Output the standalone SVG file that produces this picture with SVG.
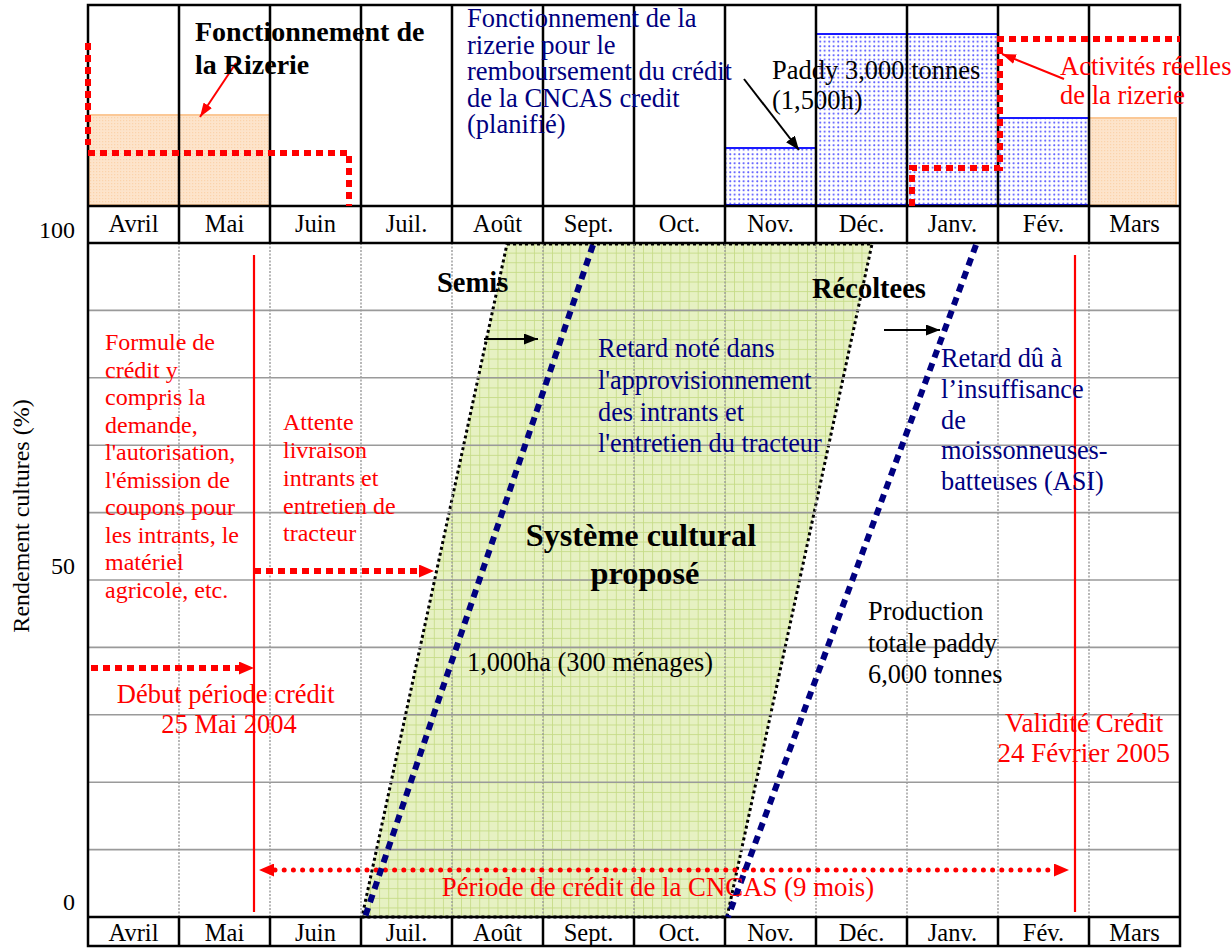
<svg xmlns="http://www.w3.org/2000/svg" width="1232" height="948" viewBox="0 0 1232 948">
  <style>
    text { font-family: "Liberation Serif", "Times New Roman", serif; }
    .month { font-size: 24.5px; fill: #000; text-anchor: middle; }
    .axis { font-size: 24px; fill: #000; }
    .red { fill: #f00; }
    .navy { fill: #000080; }
    .blk { fill: #000; }
    .bold { font-weight: bold; }
    .frame { stroke: #000; stroke-width: 2.5; fill: none; }
    .gridh { stroke: #9a9a9a; stroke-width: 1.6; }
    .gridv { stroke: #9a9a9a; stroke-width: 1.4; stroke-dasharray: 2 1.5; }
    .redsq { stroke: #f00; stroke-width: 6; fill: none; stroke-dasharray: 7 5; }
    .reddot { stroke: #f00; stroke-width: 5; fill: none; stroke-linecap: round; stroke-dasharray: 0 9.2; }
    .navydash { stroke: #000080; stroke-width: 6; fill: none; stroke-dasharray: 8 6; }
    .blackdot { stroke: #000; stroke-width: 3; fill: none; stroke-dasharray: 3 3; }
    .orange { fill: url(#orangeFill); stroke: #fbc896; stroke-width: 2; }
    .bluebox { fill: url(#blueDots); stroke: #1a1aff; stroke-width: 2; }
  </style>
  <defs>
    <pattern id="greenGrid" x="88" y="243" width="9.1" height="9.63" patternUnits="userSpaceOnUse">
      <rect width="9.1" height="9.63" fill="#e6f1c2"/>
      <path d="M0 0.4H9.1M0.4 0V9.63" stroke="#c4db84" stroke-width="0.9" fill="none"/>
    </pattern>
    <pattern id="blueDots" width="4.5" height="4.5" patternUnits="userSpaceOnUse">
      <rect width="4.5" height="4.5" fill="#fff"/>
      <circle cx="1.2" cy="1.2" r="0.95" fill="#3b3bff"/>
    </pattern>
    <pattern id="orangeFill" width="3" height="3" patternUnits="userSpaceOnUse">
      <rect width="3" height="3" fill="#fde4cb"/>
      <rect width="1.2" height="1.2" fill="#fbd3ab"/>
    </pattern>
    <marker id="redTip" viewBox="0 0 15 13" refX="15" refY="6.5" markerWidth="15" markerHeight="13" markerUnits="userSpaceOnUse" orient="auto-start-reverse">
      <path d="M0 0L15 6.5L0 13z" fill="#f00"/>
    </marker>
    <marker id="redTipSmall" viewBox="0 0 14 10" refX="14" refY="5" markerWidth="14" markerHeight="10" markerUnits="userSpaceOnUse" orient="auto">
      <path d="M0 0L14 5L0 10z" fill="#f00"/>
    </marker>
    <marker id="blackTip" viewBox="0 0 14 11" refX="14" refY="5.5" markerWidth="14" markerHeight="11" markerUnits="userSpaceOnUse" orient="auto">
      <path d="M0 0L14 5.5L0 11z" fill="#000"/>
    </marker>
  </defs>

  <rect width="1232" height="948" fill="#fff"/>

  <!-- proposed cropping system band -->
  <g id="cropping-system">
    <polygon points="507,244 872,244 727,917 362,917" fill="url(#greenGrid)"/>
    <polygon points="507,244 872,244 727,917 362,917" class="blackdot"/>
  </g>

  <!-- chart grid -->
  <g id="grid">
    <path class="gridh" d="M88 310.4H1180M88 377.8H1180M88 445.2H1180M88 512.6H1180M88 580H1180M88 647.4H1180M88 714.8H1180M88 782.2H1180M88 849.6H1180"/>
    <path class="gridv" d="M179 243V917M270 243V917M361 243V917M452 243V917M543 243V917M634 243V917M725 243V917M816 243V917M907 243V917M998 243V917M1089 243V917"/>
  </g>

  <!-- rice mill activity bars -->
  <g id="mill-bars">
    <rect class="orange" x="89" y="115" width="90" height="90"/>
    <rect class="orange" x="179" y="115" width="91" height="90"/>
    <rect class="orange" x="1089" y="118" width="87" height="87"/>
    <rect class="bluebox" x="725" y="148" width="91" height="57"/>
    <rect class="bluebox" x="816" y="34" width="91" height="171"/>
    <rect class="bluebox" x="907" y="34" width="91" height="171"/>
    <rect class="bluebox" x="998" y="118" width="91" height="87"/>
  </g>

  <!-- table frame and month rows -->
  <g id="frame">
    <rect class="frame" x="88" y="5" width="1092" height="941"/>
    <path class="frame" d="M88 206H1180M88 243H1180M88 917H1180"/>
    <path class="frame" d="M179 5V243M270 5V243M361 5V243M452 5V243M543 5V243M634 5V243M725 5V243M816 5V243M907 5V243M998 5V243M1089 5V243"/>
    <path class="frame" d="M179 917V946M270 917V946M361 917V946M452 917V946M543 917V946M634 917V946M725 917V946M816 917V946M907 917V946M998 917V946M1089 917V946"/>
  </g>

  <g id="months-top">
    <text class="month" x="133.5" y="232">Avril</text>
    <text class="month" x="224.5" y="232">Mai</text>
    <text class="month" x="315.5" y="232">Juin</text>
    <text class="month" x="406.5" y="232">Juil.</text>
    <text class="month" x="497.5" y="232">Août</text>
    <text class="month" x="588.5" y="232">Sept.</text>
    <text class="month" x="679.5" y="232">Oct.</text>
    <text class="month" x="770.5" y="232">Nov.</text>
    <text class="month" x="861.5" y="232">Déc.</text>
    <text class="month" x="952.5" y="232">Janv.</text>
    <text class="month" x="1043.5" y="232">Fév.</text>
    <text class="month" x="1134.5" y="232">Mars</text>
  </g>
  <g id="months-bottom">
    <text class="month" x="133.5" y="941">Avril</text>
    <text class="month" x="224.5" y="941">Mai</text>
    <text class="month" x="315.5" y="941">Juin</text>
    <text class="month" x="406.5" y="941">Juil.</text>
    <text class="month" x="497.5" y="941">Août</text>
    <text class="month" x="588.5" y="941">Sept.</text>
    <text class="month" x="679.5" y="941">Oct.</text>
    <text class="month" x="770.5" y="941">Nov.</text>
    <text class="month" x="861.5" y="941">Déc.</text>
    <text class="month" x="952.5" y="941">Janv.</text>
    <text class="month" x="1043.5" y="941">Fév.</text>
    <text class="month" x="1134.5" y="941">Mars</text>
  </g>

  <!-- y axis -->
  <g id="y-axis">
    <text class="axis" x="75" y="238" text-anchor="end">100</text>
    <text class="axis" x="75" y="574" text-anchor="end">50</text>
    <text class="axis" x="75" y="910" text-anchor="end">0</text>
    <text class="axis" font-size="26.5" transform="translate(29,516) rotate(-90)" text-anchor="middle">Rendement cultures (%)</text>
  </g>

  <!-- connectors -->
  <g id="connectors">
    <!-- planned and actual mill operation -->
    <path class="redsq" d="M88 43V145"/>
    <path class="redsq" d="M88 153H349V206"/>
    <path class="redsq" d="M912 206V168H1000V39H1180"/>
    <line x1="236" y1="63" x2="200" y2="117" stroke="#f00" stroke-width="2" marker-end="url(#redTipSmall)"/>
    <line x1="1064" y1="79" x2="1002" y2="54" stroke="#f00" stroke-width="2" marker-end="url(#redTipSmall)"/>
    <line x1="744" y1="79" x2="799" y2="150" stroke="#000" stroke-width="2" marker-end="url(#blackTip)"/>
    <!-- credit period markers -->
    <line x1="254" y1="255" x2="254" y2="912" stroke="#f00" stroke-width="2.2"/>
    <line x1="1075" y1="255" x2="1075" y2="912" stroke="#f00" stroke-width="2.2"/>
    <path class="redsq" d="M254 571H420"/>
    <path d="M420 571H434" stroke="none" marker-end="url(#redTip)"/>
    <path class="redsq" d="M91 668H240"/>
    <path d="M240 668H254" stroke="none" marker-end="url(#redTip)"/>
    <path class="reddot" d="M275 870H1054"/>
    <path d="M273 870H259" stroke="none" marker-end="url(#redTip)"/>
    <path d="M1054 870H1069" stroke="none" marker-end="url(#redTip)"/>
    <!-- sowing and harvest delays -->
    <line class="navydash" x1="593" y1="245" x2="365" y2="917"/>
    <line class="navydash" x1="976" y1="245" x2="728" y2="917"/>
    <line x1="484" y1="339" x2="538" y2="339" stroke="#000" stroke-width="2" marker-end="url(#blackTip)"/>
    <line x1="884" y1="330" x2="940" y2="330" stroke="#000" stroke-width="2" marker-end="url(#blackTip)"/>
  </g>

  <!-- labels -->
  <g id="label-mill">
    <text class="blk bold" font-size="28" x="195" y="41">Fonctionnement de</text>
    <text class="blk bold" font-size="28" x="195" y="74">la Rizerie</text>
  </g>
  <g id="label-planned">
    <text class="navy" font-size="26.5">
      <tspan x="467" y="27">Fonctionnement de la</tspan>
      <tspan x="467" y="53.5">rizerie pour le</tspan>
      <tspan x="467" y="80">remboursement du crédit</tspan>
      <tspan x="467" y="106.5">de la CNCAS credit</tspan>
      <tspan x="467" y="133">(planifié)</tspan>
    </text>
  </g>
  <g id="label-paddy">
    <text class="blk" font-size="26.5">
      <tspan x="772" y="79">Paddy 3,000 tonnes</tspan>
      <tspan x="772" y="109">(1,500h)</tspan>
    </text>
  </g>
  <g id="label-actual">
    <text class="red" font-size="26.5">
      <tspan x="1060" y="75">Activités réelles</tspan>
      <tspan x="1060" y="104">de la rizerie</tspan>
    </text>
  </g>
  <g id="label-credit-formula">
    <text class="red" font-size="24">
      <tspan x="105" y="350">Formule de</tspan>
      <tspan x="105" y="377.5">crédit y</tspan>
      <tspan x="105" y="405">compris la</tspan>
      <tspan x="105" y="432.5">demande,</tspan>
      <tspan x="105" y="460">l'autorisation,</tspan>
      <tspan x="105" y="487.5">l'émission de</tspan>
      <tspan x="105" y="515">coupons pour</tspan>
      <tspan x="105" y="542.5">les intrants, le</tspan>
      <tspan x="105" y="570">matériel</tspan>
      <tspan x="105" y="597.5">agricole, etc.</tspan>
    </text>
  </g>
  <g id="label-waiting">
    <text class="red" font-size="24">
      <tspan x="283" y="430">Attente</tspan>
      <tspan x="283" y="458">livraison</tspan>
      <tspan x="283" y="486">intrants et</tspan>
      <tspan x="283" y="513.5">entretien de</tspan>
      <tspan x="283" y="541">tracteur</tspan>
    </text>
  </g>
  <g id="label-credit-start">
    <text class="red" font-size="26.5" text-anchor="middle">
      <tspan x="229" y="703">Début période crédit</tspan>
      <tspan x="229" y="733">25 Mai 2004</tspan>
    </text>
  </g>
  <g id="label-credit-end">
    <text class="red" font-size="27" text-anchor="end">
      <tspan x="1170" y="732">Validité Crédit</tspan>
      <tspan x="1170" y="762">24 Février 2005</tspan>
    </text>
  </g>
  <g id="label-credit-period">
    <text class="red" font-size="26.8" x="658" y="896" text-anchor="middle">Période de crédit de la CNCAS (9 mois)</text>
  </g>
  <g id="label-sowing">
    <text class="blk bold" font-size="28.5" x="437" y="292">Semis</text>
  </g>
  <g id="label-harvest">
    <text class="blk bold" font-size="28.5" x="812" y="298">Récoltees</text>
  </g>
  <g id="label-sowing-delay">
    <text class="navy" font-size="26.3">
      <tspan x="598" y="357">Retard noté dans</tspan>
      <tspan x="598" y="389">l'approvisionnement</tspan>
      <tspan x="598" y="420.5">des intrants et</tspan>
      <tspan x="598" y="452">l'entretien du tracteur</tspan>
    </text>
  </g>
  <g id="label-harvest-delay">
    <text class="navy" font-size="26.3">
      <tspan x="941" y="367">Retard dû à</tspan>
      <tspan x="941" y="398">l’insuffisance</tspan>
      <tspan x="941" y="428.5">de</tspan>
      <tspan x="941" y="459">moissonneuses-</tspan>
      <tspan x="941" y="490">batteuses (ASI)</tspan>
    </text>
  </g>
  <g id="label-system">
    <text class="blk bold" font-size="32.3" text-anchor="middle">
      <tspan x="645" y="546">Système cultural</tspan>
      <tspan x="645" y="584">proposé</tspan>
    </text>
  </g>
  <g id="label-area">
    <text class="blk" font-size="26.3" x="467" y="671">1,000ha (300 ménages)</text>
  </g>
  <g id="label-production">
    <text class="blk" font-size="26.3">
      <tspan x="868" y="620">Production</tspan>
      <tspan x="868" y="652">totale paddy</tspan>
      <tspan x="868" y="683">6,000 tonnes</tspan>
    </text>
  </g>
</svg>
